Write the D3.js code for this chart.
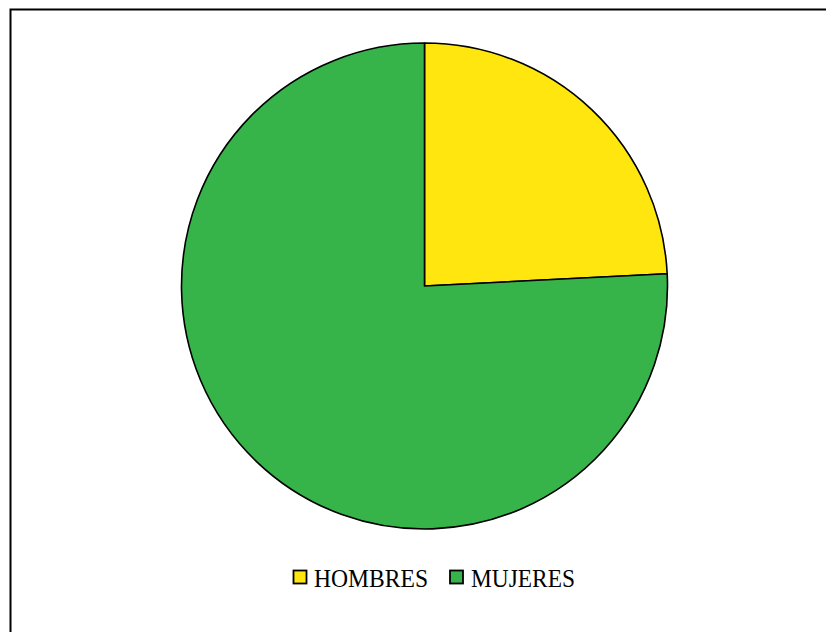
<!DOCTYPE html>
<html>
<head>
<meta charset="utf-8">
<script src="https://cdn.jsdelivr.net/npm/d3@7"></script>
<style>
  html, body { margin: 0; padding: 0; background: #fff; }
  svg { display: block; }
</style>
</head>
<body>
<svg id="chart" width="826" height="632"></svg>
<script>
// Share of people by sex (percent)
const categories = ["HOMBRES", "MUJERES"];
const values = [24.2, 75.8];
const colors = ["#FFE60F", "#36B44A"];

const svg = d3.select("#chart");

// outer frame of the chart area
svg.append("rect")
  .attr("x", 10.5).attr("y", 9.5)
  .attr("width", 840).attr("height", 660)
  .attr("fill", "#fff")
  .attr("stroke", "#000")
  .attr("stroke-width", 2);

const cx = 424.5, cy = 286, r = 243;

const pie = d3.pie().sort(null).value(d => d.value);
const arc = d3.arc().innerRadius(0).outerRadius(r);
const data = categories.map((c, i) => ({ name: c, value: values[i], color: colors[i] }));

svg.append("g")
  .attr("transform", `translate(${cx},${cy})`)
  .selectAll("path")
  .data(pie(data))
  .join("path")
  .attr("d", arc)
  .attr("fill", d => d.data.color)
  .attr("stroke", "#000")
  .attr("stroke-width", 1.6)
  .attr("stroke-linejoin", "round");

// legend
const legend = svg.append("g")
  .attr("font-family", "'Liberation Serif', 'Times New Roman', serif")
  .attr("font-size", 25.5);
const items = [
  { x: 293.5, tx: 314, w: 114 },
  { x: 450, tx: 471, w: 104 }
];
data.forEach((d, i) => {
  legend.append("rect")
    .attr("x", items[i].x).attr("y", 570.5)
    .attr("width", 13).attr("height", 13)
    .attr("fill", d.color)
    .attr("stroke", "#000")
    .attr("stroke-width", 1.8);
  legend.append("text")
    .attr("x", items[i].tx).attr("y", 587.3)
    .attr("fill", "#000")
    .attr("textLength", items[i].w)
    .attr("lengthAdjust", "spacingAndGlyphs")
    .text(d.name);
});
</script>
</body>
</html>
